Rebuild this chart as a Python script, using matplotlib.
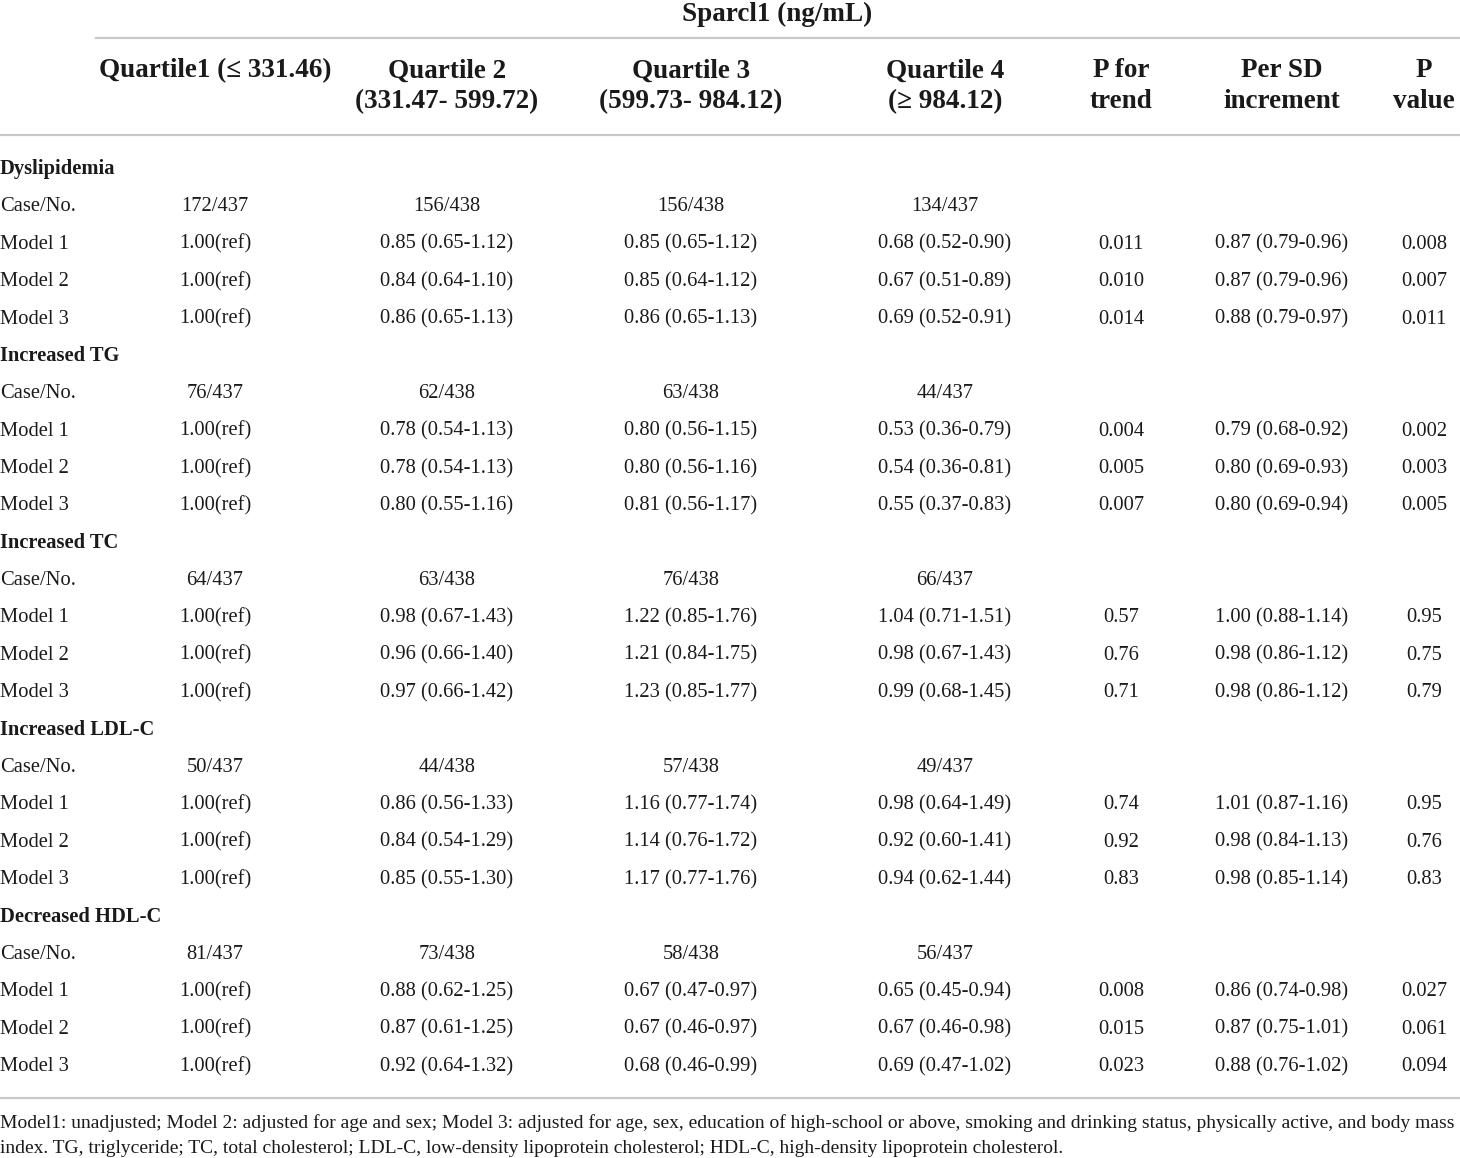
import matplotlib
matplotlib.use("Agg")
import matplotlib.pyplot as plt

# table content
groups = ["Dyslipidemia", "Increased TG", "Increased TC", "Increased LDL-C", "Decreased HDL-C"]
case_no = [
    ["172/437", "156/438", "156/438", "134/437"],
    ["76/437", "62/438", "63/438", "44/437"],
    ["64/437", "63/438", "76/438", "66/437"],
    ["50/437", "44/438", "57/438", "49/437"],
    ["81/437", "73/438", "58/438", "56/437"],
]
models = ["Model 1", "Model 2", "Model 3"]
q2 = ["0.85 (0.65-1.12)", "0.84 (0.64-1.10)", "0.86 (0.65-1.13)",
      "0.78 (0.54-1.13)", "0.78 (0.54-1.13)", "0.80 (0.55-1.16)",
      "0.98 (0.67-1.43)", "0.96 (0.66-1.40)", "0.97 (0.66-1.42)",
      "0.86 (0.56-1.33)", "0.84 (0.54-1.29)", "0.85 (0.55-1.30)",
      "0.88 (0.62-1.25)", "0.87 (0.61-1.25)", "0.92 (0.64-1.32)"]
q3 = ["0.85 (0.65-1.12)", "0.85 (0.64-1.12)", "0.86 (0.65-1.13)",
      "0.80 (0.56-1.15)", "0.80 (0.56-1.16)", "0.81 (0.56-1.17)",
      "1.22 (0.85-1.76)", "1.21 (0.84-1.75)", "1.23 (0.85-1.77)",
      "1.16 (0.77-1.74)", "1.14 (0.76-1.72)", "1.17 (0.77-1.76)",
      "0.67 (0.47-0.97)", "0.67 (0.46-0.97)", "0.68 (0.46-0.99)"]
q4 = ["0.68 (0.52-0.90)", "0.67 (0.51-0.89)", "0.69 (0.52-0.91)",
      "0.53 (0.36-0.79)", "0.54 (0.36-0.81)", "0.55 (0.37-0.83)",
      "1.04 (0.71-1.51)", "0.98 (0.67-1.43)", "0.99 (0.68-1.45)",
      "0.98 (0.64-1.49)", "0.92 (0.60-1.41)", "0.94 (0.62-1.44)",
      "0.65 (0.45-0.94)", "0.67 (0.46-0.98)", "0.69 (0.47-1.02)"]
p_trend = ["0.011", "0.010", "0.014",
           "0.004", "0.005", "0.007",
           "0.57", "0.76", "0.71",
           "0.74", "0.92", "0.83",
           "0.008", "0.015", "0.023"]
per_sd = ["0.87 (0.79-0.96)", "0.87 (0.79-0.96)", "0.88 (0.79-0.97)",
          "0.79 (0.68-0.92)", "0.80 (0.69-0.93)", "0.80 (0.69-0.94)",
          "1.00 (0.88-1.14)", "0.98 (0.86-1.12)", "0.98 (0.86-1.12)",
          "1.01 (0.87-1.16)", "0.98 (0.84-1.13)", "0.98 (0.85-1.14)",
          "0.86 (0.74-0.98)", "0.87 (0.75-1.01)", "0.88 (0.76-1.02)"]
p_value = ["0.008", "0.007", "0.011",
           "0.002", "0.003", "0.005",
           "0.95", "0.75", "0.79",
           "0.95", "0.76", "0.83",
           "0.027", "0.061", "0.094"]

headers = ["Quartile1 (\u2264 331.46)", "Quartile 2\n(331.47- 599.72)",
           "Quartile 3\n(599.73- 984.12)", "Quartile 4\n(\u2265 984.12)",
           "P for\ntrend", "Per SD\nincrement", "P\nvalue"]
title = "Sparcl1 (ng/mL)"
footnote = ["Model1: unadjusted; Model 2: adjusted for age and sex; Model 3: adjusted for age, sex, "
            "education of high-school or above, smoking and drinking status, physically active, and body mass",
            "index. TG, triglyceride; TC, total cholesterol; LDL-C, low-density lipoprotein cholesterol; "
            "HDL-C, high-density lipoprotein cholesterol."]

col_x = [215, 447, 691, 945, 1121, 1282, 1424]
W, H = 1460, 1158

plt.rcParams['font.family'] = ['Liberation Serif', 'DejaVu Serif']
fig = plt.figure(figsize=(W / 100, H / 100), dpi=100)
ax = fig.add_axes([0, 0, 1, 1])
ax.set_xlim(0, W)
ax.set_ylim(H, 0)
ax.axis("off")

line_kw = dict(color="#c8c8c8", lw=1.6)
body = 14.8
head = 19.5
txt = "#1a1a1a"
cell = dict(va="baseline", fontsize=body, color=txt)

ax.text(777, 14, title, ha="center", va="center", fontsize=head, fontweight="bold", color=txt)
ax.plot([96, W], [38, 38], **line_kw)
for x, h in zip(col_x, headers):
    y = 71 if "\n" not in h else 86
    ax.text(x, y, h, ha="center", va="center", fontsize=head, fontweight="bold",
            color=txt, linespacing=1.29)
ax.plot([0, W], [135, 135], **line_kw)

# baseline of first body row, row pitch
y0, dy = 174, 37.375
row = 0
for g, name in enumerate(groups):
    y = y0 + row * dy
    ax.text(0, y, name, ha="left", fontweight="bold", **cell)
    row += 1
    y = y0 + row * dy
    ax.text(0, y, "Case/No.", ha="left", **cell)
    for x, c in zip(col_x[:4], case_no[g]):
        ax.text(x, y, c, ha="center", **cell)
    row += 1
    for m, mname in enumerate(models):
        k = g * 3 + m
        y = y0 + row * dy
        ax.text(0, y, mname, ha="left", **cell)
        vals = ["1.00(ref)", q2[k], q3[k], q4[k], p_trend[k], per_sd[k], p_value[k]]
        for x, v in zip(col_x, vals):
            ax.text(x, y, v, ha="center", **cell)
        row += 1

ax.plot([0, W], [1098, 1098], **line_kw)
for i, line in enumerate(footnote):
    ax.text(0, 1128 + i * 25, line, ha="left", va="baseline", fontsize=14.0, color=txt)

fig.savefig("out.png", dpi=100)
